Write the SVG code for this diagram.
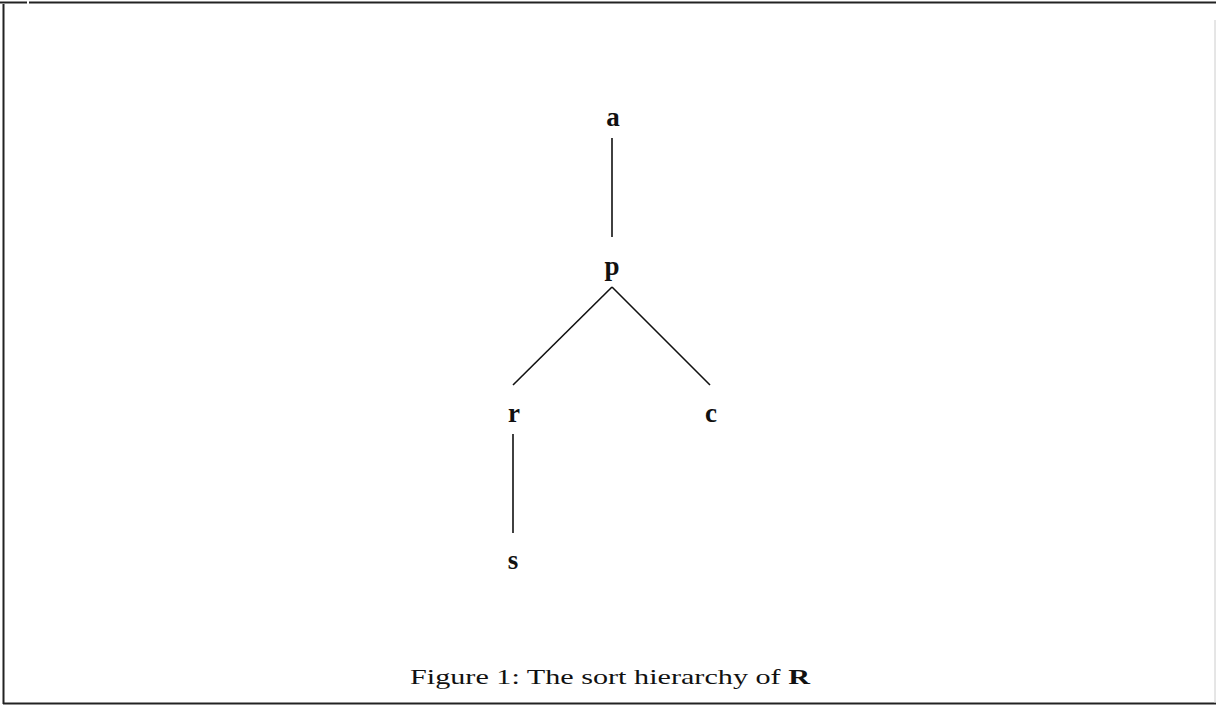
<svg xmlns="http://www.w3.org/2000/svg" width="1216" height="705" viewBox="0 0 1216 705">
<style>
.n{font-family:"Liberation Serif",serif;font-weight:bold;font-size:27px;fill:#111;text-anchor:middle}
.e{stroke:#111;stroke-width:1.6;fill:none}
.f{stroke:#222;stroke-width:2;fill:none}
.cap{font-family:"Liberation Serif",serif;font-size:21px;fill:#111}
</style>
<rect width="1216" height="705" fill="#fff"/>
<g id="frame">
<line class="f" x1="0" y1="2.5" x2="27" y2="2.5"/>
<line class="f" x1="29" y1="2.5" x2="1216" y2="2.5"/>
<line class="f" x1="3.5" y1="4" x2="3.5" y2="704"/>
<line class="f" x1="3" y1="703.5" x2="1216" y2="703.5"/>
<line x1="1215" y1="20" x2="1215" y2="703" stroke="#ccc" stroke-width="1"/>
</g>
<g id="connectors">
<line class="e" x1="612" y1="138" x2="612" y2="237"/>
<line class="e" x1="612" y1="287" x2="513" y2="385"/>
<line class="e" x1="612" y1="287" x2="710" y2="385"/>
<line class="e" x1="513" y1="434" x2="513" y2="533"/>
</g>
<g id="node-a"><text class="n" x="613" y="126">a</text></g>
<g id="node-p"><text class="n" x="612" y="275">p</text></g>
<g id="node-r"><text class="n" x="514" y="422">r</text></g>
<g id="node-c"><text class="n" x="711" y="422">c</text></g>
<g id="node-s"><text class="n" x="513" y="569">s</text></g>
<g id="caption"><text class="cap" x="410" y="684" textLength="400" lengthAdjust="spacingAndGlyphs">Figure 1: The sort hierarchy of <tspan font-weight="bold">R</tspan></text></g>
</svg>
